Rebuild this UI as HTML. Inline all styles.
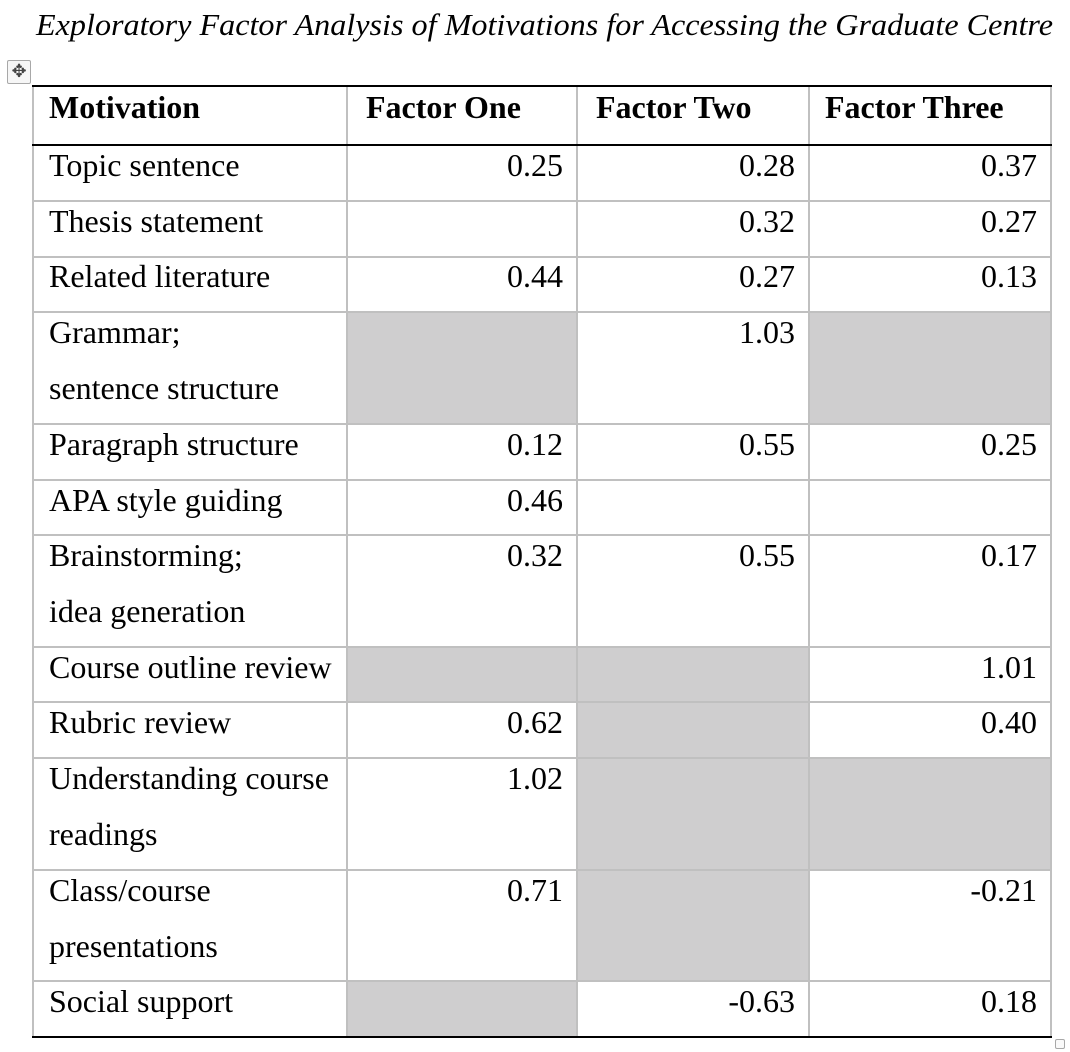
<!DOCTYPE html>
<html><head><meta charset="utf-8">
<style>
html,body{margin:0;padding:0;background:#fff;}
body{width:1070px;height:1052px;position:relative;overflow:hidden;font-family:"Liberation Serif","Times New Roman",serif;color:#000;}
.h{position:absolute;left:32px;width:1020px;height:2px;background:#c0c0c0;}
.hb{position:absolute;left:32px;width:1020px;height:2px;background:#000;}
.v{position:absolute;top:86px;height:951px;width:2px;background:#c0c0c0;}
.g{position:absolute;background:#cfcecf;}
.t{position:absolute;font-size:32px;line-height:56px;white-space:nowrap;}
.l{left:49px;}
.r2{right:507px;text-align:right;}
.r3{right:275px;text-align:right;}
.r4{right:33px;text-align:right;}
.b{font-weight:bold;}
</style></head><body>
<svg style="position:absolute;left:0;top:0" width="1070" height="50"><text x="36" y="35" font-family="Liberation Serif, serif" font-style="italic" font-size="31" textLength="1017" lengthAdjust="spacingAndGlyphs">Exploratory Factor Analysis of Motivations for Accessing the Graduate Centre</text></svg>

<!-- move handle -->
<div style="position:absolute;left:7px;top:60px;width:22px;height:22px;border:1px solid #a8a8a8;border-radius:2px;background:#f6f6f6;"></div>
<div style="position:absolute;left:7px;top:60px;width:24px;height:24px;font-size:18px;line-height:24px;text-align:center;color:#444;font-family:'DejaVu Sans',sans-serif;">✥</div>
<!-- resize handle -->
<div style="position:absolute;left:1055px;top:1039px;width:8px;height:8px;border:1px solid #a8a8a8;border-radius:2px;background:#fafafa;"></div>

<!-- gray fills -->
<div class="g" style="left:347px;top:312px;width:230px;height:112px"></div>
<div class="g" style="left:809px;top:312px;width:242px;height:112px"></div>
<div class="g" style="left:347px;top:647px;width:230px;height:55px"></div>
<div class="g" style="left:577px;top:647px;width:232px;height:55px"></div>
<div class="g" style="left:577px;top:702px;width:232px;height:56px"></div>
<div class="g" style="left:577px;top:758px;width:232px;height:112px"></div>
<div class="g" style="left:809px;top:758px;width:242px;height:112px"></div>
<div class="g" style="left:577px;top:870px;width:232px;height:111px"></div>
<div class="g" style="left:347px;top:981px;width:230px;height:56px"></div>

<!-- horizontal lines -->
<div class="h" style="top:200px"></div>
<div class="h" style="top:256px"></div>
<div class="h" style="top:311px"></div>
<div class="h" style="top:423px"></div>
<div class="h" style="top:479px"></div>
<div class="h" style="top:534px"></div>
<div class="h" style="top:646px"></div>
<div class="h" style="top:701px"></div>
<div class="h" style="top:757px"></div>
<div class="h" style="top:869px"></div>
<div class="h" style="top:980px"></div>
<!-- vertical lines -->
<div class="v" style="left:32px"></div>
<div class="v" style="left:346px"></div>
<div class="v" style="left:576px"></div>
<div class="v" style="left:808px"></div>
<div class="v" style="left:1050px"></div>
<!-- black rules -->
<div class="hb" style="top:85px"></div>
<div class="hb" style="top:144px"></div>
<div class="hb" style="top:1036px"></div>

<!-- header -->
<div class="t b l" style="top:79px">Motivation</div>
<div class="t b" style="top:79px;left:366px">Factor One</div>
<div class="t b" style="top:79px;left:596px">Factor Two</div>
<div class="t b" style="top:79px;left:825px">Factor Three</div>

<!-- rows -->
<div class="t l" style="top:137px">Topic sentence</div>
<div class="t r2" style="top:137px">0.25</div>
<div class="t r3" style="top:137px">0.28</div>
<div class="t r4" style="top:137px">0.37</div>

<div class="t l" style="top:193px">Thesis statement</div>
<div class="t r3" style="top:193px">0.32</div>
<div class="t r4" style="top:193px">0.27</div>

<div class="t l" style="top:248px">Related literature</div>
<div class="t r2" style="top:248px">0.44</div>
<div class="t r3" style="top:248px">0.27</div>
<div class="t r4" style="top:248px">0.13</div>

<div class="t l" style="top:304px">Grammar;<br>sentence structure</div>
<div class="t r3" style="top:304px">1.03</div>

<div class="t l" style="top:416px">Paragraph structure</div>
<div class="t r2" style="top:416px">0.12</div>
<div class="t r3" style="top:416px">0.55</div>
<div class="t r4" style="top:416px">0.25</div>

<div class="t l" style="top:472px">APA style guiding</div>
<div class="t r2" style="top:472px">0.46</div>

<div class="t l" style="top:527px">Brainstorming;<br>idea generation</div>
<div class="t r2" style="top:527px">0.32</div>
<div class="t r3" style="top:527px">0.55</div>
<div class="t r4" style="top:527px">0.17</div>

<div class="t l" style="top:639px">Course outline review</div>
<div class="t r4" style="top:639px">1.01</div>

<div class="t l" style="top:694px">Rubric review</div>
<div class="t r2" style="top:694px">0.62</div>
<div class="t r4" style="top:694px">0.40</div>

<div class="t l" style="top:750px">Understanding course<br>readings</div>
<div class="t r2" style="top:750px">1.02</div>

<div class="t l" style="top:862px">Class/course<br>presentations</div>
<div class="t r2" style="top:862px">0.71</div>
<div class="t r4" style="top:862px">-0.21</div>

<div class="t l" style="top:973px">Social support</div>
<div class="t r3" style="top:973px">-0.63</div>
<div class="t r4" style="top:973px">0.18</div>
</body></html>
